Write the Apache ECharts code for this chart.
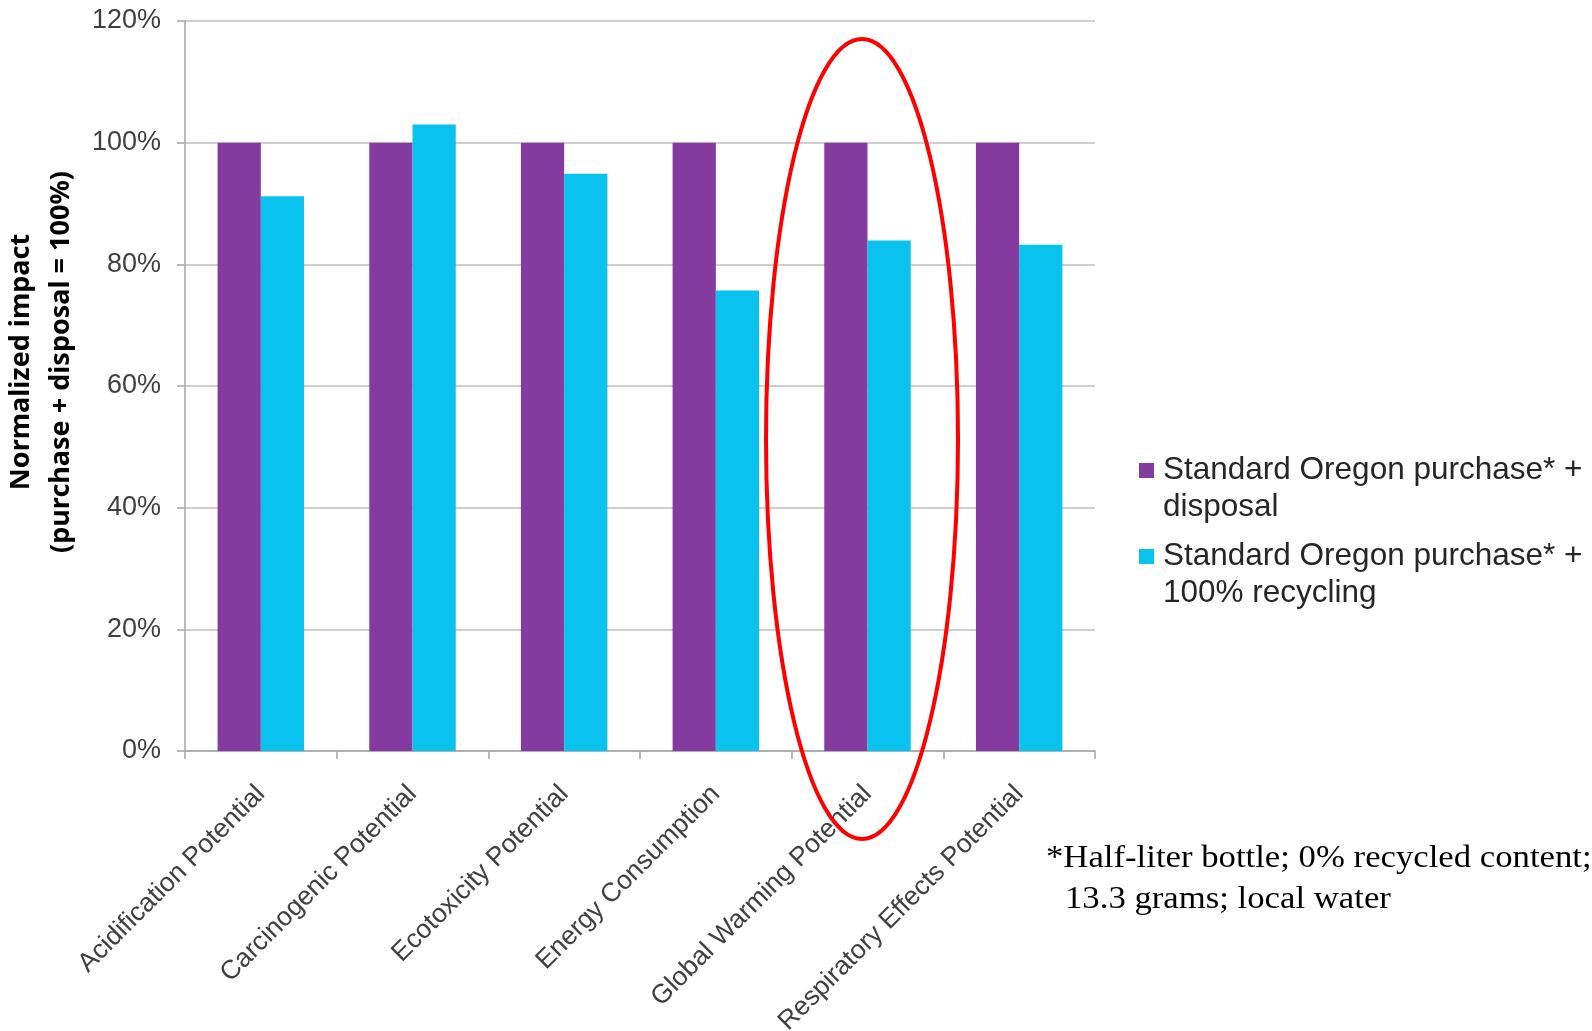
<!DOCTYPE html>
<html>
<head>
<meta charset="utf-8">
<script src="https://cdn.jsdelivr.net/npm/echarts@6/dist/echarts.min.js"></script>
<style>html,body{margin:0;padding:0;background:#fff;}#c{width:1592px;height:1031px;}</style>
</head>
<body>
<div id="c"></div>
<script>
const categories = ['Acidification Potential','Carcinogenic Potential','Ecotoxicity Potential','Energy Consumption','Global Warming Potential','Respiratory Effects Potential'];
const seriesNames = ['Standard Oregon purchase* +\ndisposal','Standard Oregon purchase* +\n100% recycling'];
const disposalValues = [100,100,100,100,100,100];
const recyclingValues = [91.2,103.0,94.9,75.7,83.9,83.2];
const yTicks = [0,20,40,60,80,100,120];
const footnoteLines = ['*Half-liter bottle; 0% recycled content;','13.3 grams; local water'];

const chart = echarts.init(document.getElementById('c'));
chart.setOption({
  animation:false,
  backgroundColor:'#fff',
  grid:{left:185,right:497,top:21,bottom:280,containLabel:false,outerBoundsMode:'none'},
  legend:{
    orient:'vertical', left:1139, top:415, padding:0, itemGap:-25,
    itemWidth:15, itemHeight:15, icon:'rect',
    formatter:function(n){return ' \n'+n;},
    textStyle:{fontFamily:'Liberation Sans, Arial, sans-serif', fontSize:31.5, color:'#262626', lineHeight:37, padding:[0,0,0,4]},
    data:seriesNames
  },
  xAxis:{
    type:'category', data:categories,
    axisLine:{lineStyle:{color:'#a6a6a6',width:1.5}},
    axisTick:{show:true,length:8,lineStyle:{color:'#a6a6a6',width:1.5}},
    axisLabel:{rotate:45, fontFamily:'Liberation Sans, Arial, sans-serif', fontSize:26.5, color:'#404040', margin:39, interval:0}
  },
  yAxis:{
    type:'value', min:0, max:120, interval:20,
    name:'Normalized impact\n(purchase + disposal = 100%)',
    nameLocation:'middle', nameGap:93, nameRotate:90,
    nameTextStyle:{fontFamily:'Noto Sans, sans-serif', fontWeight:'bold', fontSize:27, color:'#000', lineHeight:40, padding:[0,0,0,48]},
    axisLine:{show:true,lineStyle:{color:'#a6a6a6',width:1.5}},
    axisTick:{show:true,length:8,lineStyle:{color:'#a6a6a6',width:1.5}},
    splitLine:{lineStyle:{color:'#bfbfbf',width:1.5}},
    axisLabel:{fontFamily:'Liberation Sans, Arial, sans-serif', fontSize:27, color:'#404040', margin:24,
      formatter:function(v){return yTicks.indexOf(v)>=0 ? v+'%' : '';}}
  },
  series:[
    {name:seriesNames[0], type:'bar', data:disposalValues, itemStyle:{color:'#853aa0'}, barGap:'0%', barCategoryGap:'43%'},
    {name:seriesNames[1], type:'bar', data:recyclingValues, itemStyle:{color:'#09c2ee'}, barGap:'0%', barCategoryGap:'43%'}
  ],
  graphic:[
    {type:'ellipse', shape:{cx:862, cy:439, rx:96, ry:400}, style:{fill:'none', stroke:'#ff0000', lineWidth:4}, z:100},
    {type:'text', x:1046, y:843, scaleX:1.12, style:{text:footnoteLines[0], font:'31px "Liberation Serif", "Times New Roman", serif', fill:'#000'}},
    {type:'text', x:1065, y:884, scaleX:1.12, style:{text:footnoteLines[1], font:'31px "Liberation Serif", "Times New Roman", serif', fill:'#000'}}
  ]
});
</script>
</body>
</html>
